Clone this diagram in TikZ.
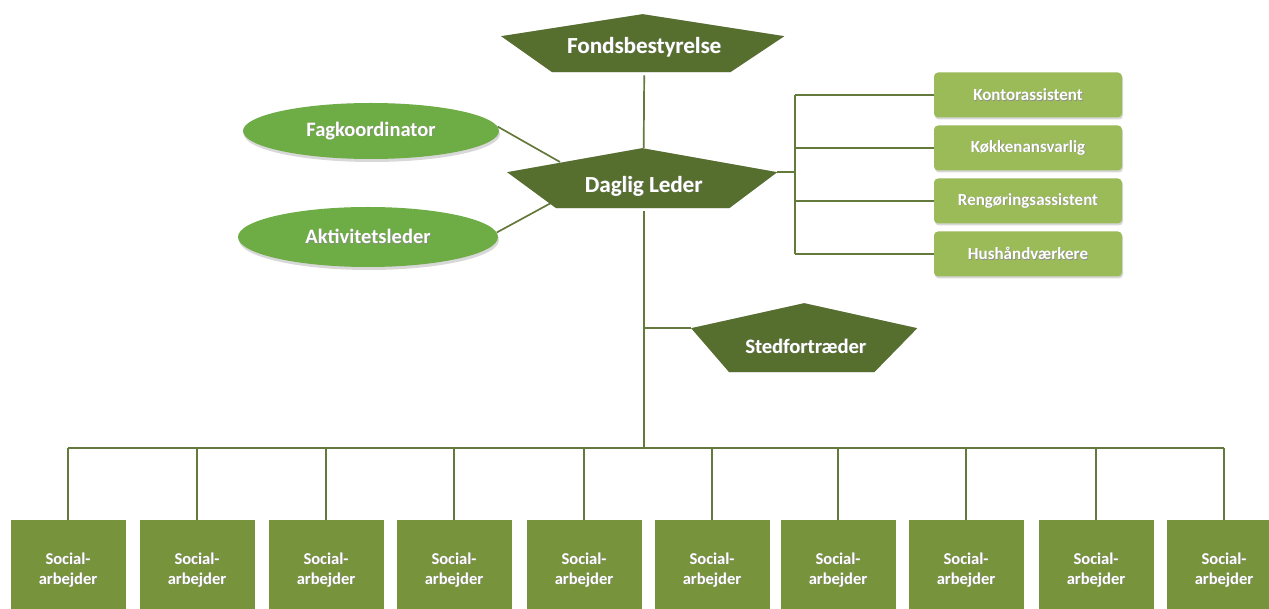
\documentclass[tikz,border=0pt]{standalone}
\usepackage{fontspec}
\setmainfont{Carlito}
\usetikzlibrary{calc,shadows,shapes.geometric,backgrounds}
\definecolor{dk}{HTML}{566E2E}
\definecolor{ell}{HTML}{6EAC45}
\definecolor{rboxc}{HTML}{9BBB59}
\definecolor{bboxc}{HTML}{77933C}
\definecolor{ln}{HTML}{647A3C}
\newcommand\shtext[1]{\leavevmode\rlap{\kern0.7pt\raisebox{-0.7pt}{\color{black!45}#1}}#1}
\begin{document}
\begin{tikzpicture}[x=1pt,y=-1pt,
  pent/.style n args={3}{inner sep=0pt, text=white, path picture={
     \fill[black, opacity=.28, shift={(2pt,-2.5pt)}] let \p1=(path picture bounding box.north west), \p2=(path picture bounding box.south east) in
       ({(\x1+\x2-3pt)/2},\y1) -- ({\x2-3pt},{\y1-#1}) -- ({\x2-3pt-#3},{\y2+3pt}) -- ({\x1+#2},{\y2+3pt}) -- (\x1,{\y1-#1}) -- cycle;
     \fill[dk] let \p1=(path picture bounding box.north west), \p2=(path picture bounding box.south east) in
       ({(\x1+\x2-3pt)/2},\y1) -- ({\x2-3pt},{\y1-#1}) -- ({\x2-3pt-#3},{\y2+3pt}) -- ({\x1+#2},{\y2+3pt}) -- (\x1,{\y1-#1}) -- cycle;}},
  ell/.style={ellipse, fill=ell, text=white, inner sep=0pt, font=\bfseries\fontsize{20.5}{22}\selectfont,
     drop shadow={shadow xshift=1pt, shadow yshift=-3pt, opacity=.3}},
  rb/.style={rectangle, rounded corners=4pt, fill=rboxc, text=white, minimum width=188pt, minimum height=45pt,
     font=\bfseries\fontsize{17}{19}\selectfont, drop shadow={shadow xshift=1pt, shadow yshift=-2pt, opacity=.3}},
  sb/.style={rectangle, fill=bboxc, text=white, minimum width=115pt, minimum height=100pt, align=center,
     font=\bfseries\fontsize{16.5}{20}\selectfont},
  cn/.style={draw=ln, line width=1.7pt}]
\useasboundingbox (0,0) rectangle (1269,609);
\node[pent={22pt}{51pt}{54pt}, minimum width=286pt, text height=39pt, text depth=22pt, anchor=north west,
  font=\bfseries\fontsize{23}{23}\selectfont] (fonds) at (501,14) {\shtext{Fondsbestyrelse}};
\node[pent={24pt}{49pt}{48pt}, minimum width=273pt, text height=44pt, text depth=19pt, anchor=north west,
  font=\bfseries\fontsize{23}{23}\selectfont] (daglig) at (507,148) {\shtext{Daglig Leder}};
\node[pent={25pt}{38pt}{43pt}, minimum width=229pt, text height=50pt, text depth=22pt, anchor=north west,
  font=\bfseries\fontsize{20.5}{21}\selectfont] (sted) at (691,303) {\shtext{Stedfortræder}};
\node[ell, minimum width=256pt, minimum height=56pt] (fag) at (371,131) {\shtext{Fagkoordinator}};
\node[ell, minimum width=260pt, minimum height=60pt] (akt) at (368,237) {\shtext{Aktivitetsleder}};
\node[rb] (k1) at (1028,95) {\shtext{Kontorassistent}};
\node[rb] (k2) at (1028,148) {\shtext{Køkkenansvarlig}};
\node[rb] (k3) at (1028,201) {\shtext{Rengøringsassistent}};
\node[rb] (k4) at (1028,254) {\shtext{Hushåndværkere}};
\foreach \i/\x in {1/68,2/197,3/326,4/454,5/584,6/712,7/838,8/966,9/1096,10/1224}
  \node[sb] (s\i) at (\x,570) {\shtext{Social-}\\\shtext{arbejder}};
\coordinate (bus) at (645,448);
\coordinate (rbus) at (795,0);
\coordinate (stL) at ([yshift=-25pt]sted.north west);
\coordinate (dR) at ([xshift=-3pt,yshift=-24pt]daglig.north east);
\coordinate (dA) at (560,162);
\coordinate (dB) at (551,203);
\begin{scope}[on background layer]
\fill[white] (0,0) rectangle (1269,609);
\draw[cn] (fonds.south) -- (daglig.north);
\draw[cn] (daglig.south) -- (daglig.south |- bus);
\draw[cn] (s1.north |- bus) -- (s10.north |- bus);
\foreach \i in {1,...,10} \draw[cn] (s\i.north) -- (s\i.north |- bus);
\draw[cn] (daglig.south |- stL) -- (stL);
\draw[cn] (dR) -- (dR -| rbus);
\draw[cn] (k1.west -| rbus) -- (k4.west -| rbus);
\foreach \i in {1,...,4} \draw[cn] (k\i.west -| rbus) -- (k\i.west);
\draw[cn] (fag.2) -- (dA);
\draw[cn] (akt.2) -- (dB);
\end{scope}
\end{tikzpicture}
\end{document}
